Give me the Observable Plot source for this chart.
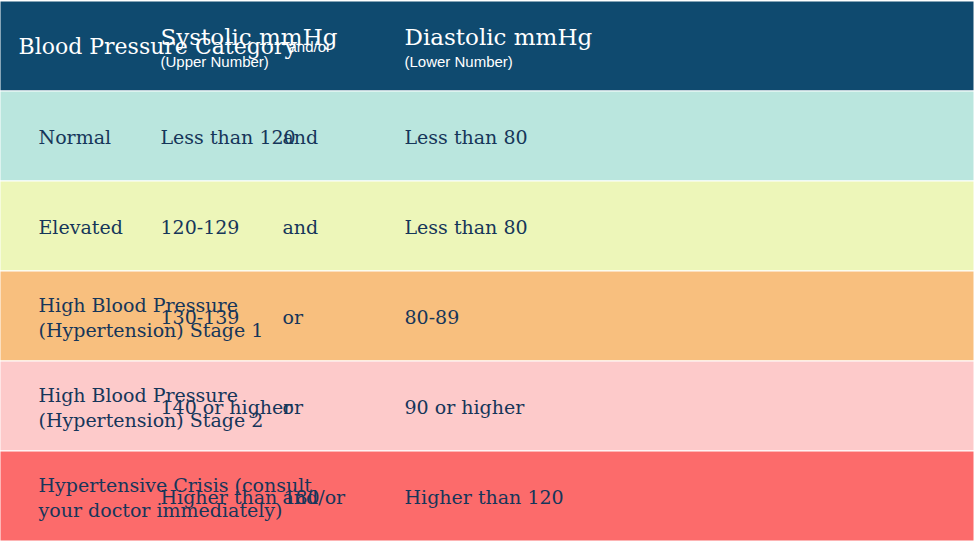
<!DOCTYPE html>
<html><head><meta charset="utf-8">
<script src="https://cdn.jsdelivr.net/npm/d3@7"></script>
<script src="https://cdn.jsdelivr.net/npm/@observablehq/plot@0.6"></script>
<style>body{margin:0;background:#fff}svg{display:block}</style>
</head><body><div id="c"></div>
<script>
const rowKeys = ["header","Normal","Elevated","Stage 1","Stage 2","Crisis"];
const rowFills = ["#0f4a6f","#bae6de","#edf6b9","#f8bf7e","#fdcaca","#fc6b6b"];
const categories = ["Normal","Elevated","High Blood Pressure\n(Hypertension) Stage 1","High Blood Pressure\n(Hypertension) Stage 2","Hypertensive Crisis (consult\nyour doctor immediately)"];
const systolic = ["Less than 120","120-129","130-139","140 or higher","Higher than 180"];
const andOr = ["and","and","or","or","and/or"];
const diastolic = ["Less than 80","Less than 80","80-89","90 or higher","Higher than 120"];
const headerMain = ["Blood Pressure Category","Systolic mmHg","","Diastolic mmHg"];
const headerSub = ["","(Upper Number)","and/or","(Lower Number)"];
const cols = ["cat","sys","ao","dia"];

const body = [];
for (let i = 0; i < categories.length; i++) {
  const r = rowKeys[i+1];
  body.push({row:r,col:"cat",t:categories[i]},{row:r,col:"sys",t:systolic[i]},{row:r,col:"ao",t:andOr[i]},{row:r,col:"dia",t:diastolic[i]});
}
const hdr = cols.map((c,i)=>({row:"header",col:c,main:headerMain[i],sub:headerSub[i]}));
const bg = rowKeys.map((r,i)=>({row:r,fill:rowFills[i]}));
const serif = "'DejaVu Serif', serif";
const sans = "'Liberation Sans', Arial, sans-serif";

const chart = Plot.plot({
  width:974, height:541, margin:0,
  x:{type:"point", domain:cols, range:[37,404,629,737], padding:0, axis:null},
  y:{type:"band", domain:rowKeys, padding:0, axis:null},
  marks:[
    Plot.cell(bg,{y:"row", fill:"fill", stroke:"#fff", strokeWidth:1}),
    Plot.text(body,{x:"col", y:"row", text:"t", textAnchor:"start", fill:"#16365a", fontSize:19, fontFamily:serif, lineHeight:1.3}),
    Plot.text(hdr.filter(d=>d.col==="cat"),{x:"col", y:"row", text:"main", textAnchor:"start", dx:-20, fill:"#fff", fontSize:22, fontFamily:serif}),
    Plot.text(hdr.filter(d=>d.col!=="cat"&&d.main),{x:"col", y:"row", text:"main", textAnchor:"start", dy:-9, fill:"#fff", fontSize:23, fontFamily:serif}),
    Plot.text(hdr.filter(d=>d.col!=="cat"&&d.main),{x:"col", y:"row", text:"sub", textAnchor:"start", dy:16, fill:"#fff", fontSize:15, fontFamily:sans}),
    Plot.text(hdr.filter(d=>d.col==="ao"),{x:"col", y:"row", text:"sub", textAnchor:"start", dx:6, dy:1, fill:"#fff", fontSize:15, fontFamily:sans})
  ]
});
document.getElementById("c").append(chart);
</script></body></html>
